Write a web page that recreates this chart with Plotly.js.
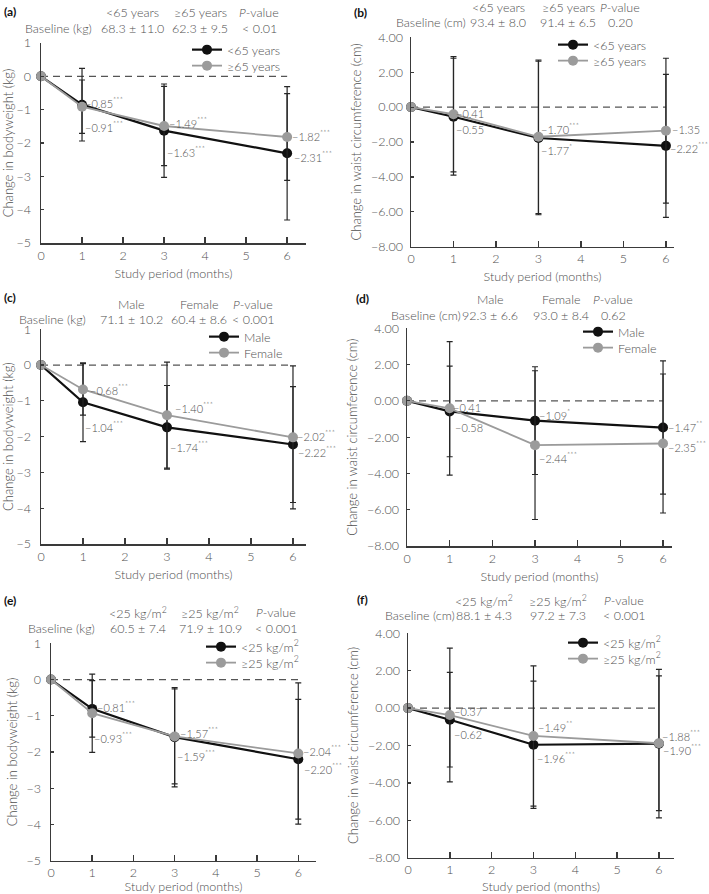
<!DOCTYPE html>
<html>
<head>
<meta charset="utf-8">
<script src="https://cdn.plot.ly/plotly-3.0.1.min.js"></script>
<style>html,body{margin:0;padding:0;background:#fff;}#chart{width:709px;height:894px;}</style>
</head>
<body>
<div id="chart"></div>
<script>
// ---------------- DATA ----------------
const months = [0, 1, 3, 6];

// (a) bodyweight by age
const aGroups = ['&lt;65 years', '≥65 years'];
const aBaseline = ['68.3 ± 11.0', '62.3 ± 9.5'];
const aPValue = '&lt; 0.01';
const aYoung = [0, -0.85, -1.63, -2.31];
const aYoungSD = [null, 1.09, 1.40, 2.00];
const aYoungSig = ['', '***', '***', '***'];
const aOld = [0, -0.91, -1.49, -1.82];
const aOldSD = [null, 0.80, 1.19, 1.30];
const aOldSig = ['', '***', '***', '***'];

// (b) waist circumference by age
const bGroups = ['&lt;65 years', '≥65 years'];
const bBaseline = ['93.4 ± 8.0', '91.4 ± 6.5'];
const bPValue = '0.20';
const bYoung = [0, -0.55, -1.77, -2.22];
const bYoungSD = [null, 3.35, 4.40, 4.10];
const bYoungSig = ['', '', '*', '***'];
const bOld = [0, -0.41, -1.70, -1.35];
const bOldSD = [null, 3.30, 4.40, 4.15];
const bOldSig = ['', '', '***', ''];

// (c) bodyweight by sex
const cGroups = ['Male', 'Female'];
const cBaseline = ['71.1 ± 10.2', '60.4 ± 8.6'];
const cPValue = '&lt; 0.001';
const cMale = [0, -1.04, -1.74, -2.22];
const cMaleSD = [null, 1.10, 1.17, 1.62];
const cMaleSig = ['', '***', '***', '***'];
const cFemale = [0, -0.68, -1.40, -2.02];
const cFemaleSD = [null, 0.72, 1.48, 2.00];
const cFemaleSig = ['', '***', '***', '***'];

// (d) waist circumference by sex
const dGroups = ['Male', 'Female'];
const dBaseline = ['92.3 ± 6.6', '93.0 ± 8.4'];
const dPValue = '0.62';
const dMale = [0, -0.58, -1.09, -1.47];
const dMaleSD = [null, 2.50, 2.97, 3.67];
const dMaleSig = ['', '', '*', '**'];
const dFemale = [0, -0.41, -2.44, -2.35];
const dFemaleSD = [null, 3.68, 4.10, 3.83];
const dFemaleSig = ['', '', '***', '***'];

// (e) bodyweight by BMI
const eGroups = ['&lt;25 kg/m<sup>2</sup>', '≥25 kg/m<sup>2</sup>'];
const eBaseline = ['60.5 ± 7.4', '71.9 ± 10.9'];
const ePValue = '&lt; 0.001';
const eLow = [0, -0.81, -1.59, -2.20];
const eLowSD = [null, 0.78, 1.37, 1.65];
const eLowSig = ['', '***', '***', '***'];
const eHigh = [0, -0.93, -1.57, -2.04];
const eHighSD = [null, 1.08, 1.31, 1.95];
const eHighSig = ['', '***', '***', '***'];

// (f) waist circumference by BMI
const fGroups = ['&lt;25 kg/m<sup>2</sup>', '≥25 kg/m<sup>2</sup>'];
const fBaseline = ['88.1 ± 4.3', '97.2 ± 7.3'];
const fPValue = '&lt; 0.001';
const fLow = [0, -0.62, -1.96, -1.90];
const fLowSD = [null, 2.53, 3.40, 3.97];
const fLowSig = ['', '', '***', '***'];
const fHigh = [0, -0.37, -1.49, -1.88];
const fHighSD = [null, 3.58, 3.75, 3.60];
const fHighSig = ['', '', '**', '***'];

const weightTicks = [-5, -4, -3, -2, -1, 0, 1];
const waistTicks = [-8, -6, -4, -2, 0, 2, 4];
const monthTicks = [0, 1, 2, 3, 4, 5, 6];

// ---------------- LAYOUT / STYLE ----------------
const W = 709, H = 894;
const px = x => x / W;
const py = y => 1 - y / H;
const FONT = 'Lato, "Open Sans", sans-serif';
const TXT = '#4f4f4f';
const AX = '#3a3a3a';
const BLACK = '#111111';
const GREY = '#9b9b9b';
const F = (size, color) => ({size: size, color: color || TXT, family: FONT, weight: 300});

const panels = [
  {id:'a', ax:'', names:aGroups, base:aBaseline, p:aPValue, unit:'Baseline (kg)', kind:'w',
   s1:aYoung, e1:aYoungSD, g1:aYoungSig, s2:aOld, e2:aOldSD, g2:aOldSig,
   geo:{x0:41, x1:306, xmax:6.46, yT:43, yB:243},
   head:{lab:[10,12], r1:13, r2:28, cols:[58,132,200,259]}, leg:[193,50],
   off1:[[1,2],[1,-21],[5,-3]], off2:[[1,-20],[3,3],[3,1]]},
  {id:'b', ax:'2', names:bGroups, base:bBaseline, p:bPValue, unit:'Baseline (cm)', kind:'c',
   s1:bYoung, e1:bYoungSD, g1:bYoungSig, s2:bOld, e2:bOldSD, g2:bOldSig,
   geo:{x0:411, x1:674, xmax:6.19, yT:37.3, yB:246.7},
   head:{lab:[360,13], r1:7, r2:23, cols:[431,498,568,620]}, leg:[559,45],
   off1:[[1,-13],[1,-12],[2,-2]], off2:[[1,1],[1,8],[4,1]]},
  {id:'c', ax:'3', names:cGroups, base:cBaseline, p:cPValue, unit:'Baseline (kg)', kind:'w',
   s1:cMale, e1:cMaleSD, g1:cMaleSig, s2:cFemale, e2:cFemaleSD, g2:cFemaleSig,
   geo:{x0:41, x1:306, xmax:6.31, yT:329.3, yB:544},
   head:{lab:[10,298], r1:304, r2:319, cols:[52,131,199,253]}, leg:[210,337],
   off1:[[0,-24],[1,-19],[3,-7]], off2:[[5,0],[6,8],[2,2]]},
  {id:'d', ax:'4', names:dGroups, base:dBaseline, p:dPValue, unit:'Baseline (cm)', kind:'c',
   s1:dMale, e1:dMaleSD, g1:dMaleSig, s2:dFemale, e2:dFemaleSD, g2:dFemaleSig,
   geo:{x0:407, x1:672, xmax:6.21, yT:328.3, yB:546},
   head:{lab:[362,299], r1:300, r2:315, cols:[426,490,561,613]}, leg:[584,332],
   off1:[[3,-16],[2,6],[3,1]], off2:[[1,1],[2,-12],[3,-3]]},
  {id:'e', ax:'5', names:eGroups, base:eBaseline, p:ePValue, unit:'Baseline (kg)', kind:'w',
   s1:eLow, e1:eLowSD, g1:eLowSig, s2:eHigh, e2:eHighSD, g2:eHighSig,
   geo:{x0:51, x1:316, xmax:6.43, yT:643.3, yB:860.7},
   head:{lab:[10,600], r1:612, r2:628, cols:[61,138,210,276]}, leg:[207,647],
   off1:[[3,2],[0,-18],[4,-9]], off2:[[0,-24],[3,4],[3,3]]},
  {id:'f', ax:'6', names:fGroups, base:fBaseline, p:fPValue, unit:'Baseline (cm)', kind:'c',
   s1:fLow, e1:fLowSD, g1:fLowSig, s2:fHigh, e2:fHighSD, g2:fHighSig,
   geo:{x0:408, x1:674, xmax:6.36, yT:633.3, yB:857.7},
   head:{lab:[362,599], r1:600, r2:615, cols:[420,484,558,624]}, leg:[569,643],
   off1:[[2,-15],[2,-13],[2,-6]], off2:[[2,4],[3,9],[1,8]]}
];

const fmt = (v, sig) => '−' + Math.abs(v).toFixed(2) + (sig ? '<sup>' + sig + '</sup>' : '');

const traces = [];
const annotations = [];
const shapes = [];
const layout = {
  width: W, height: H,
  margin: {l:0, r:0, t:0, b:0},
  paper_bgcolor: '#fff', plot_bgcolor: '#fff',
  font: F(12),
  showlegend: true,
  hovermode: false
};

let legN = 0;
panels.forEach((P, i) => {
  const xa = 'x' + P.ax, ya = 'y' + P.ax;
  const g = P.geo;
  const isW = P.kind === 'w';

  layout['xaxis' + P.ax] = {
    domain: [px(g.x0), px(g.x1)], range: [0, g.xmax], anchor: ya,
    showline: true, linecolor: AX, linewidth: 1.5,
    ticks: 'inside', ticklen: 6, tickwidth: 1.5, tickcolor: AX,
    tickvals: monthTicks, showgrid: false, zeroline: false,
    tickfont: F(12.5),
    title: {text: 'Study period (months)', font: F(12.5), standoff: 7}
  };
  layout['yaxis' + P.ax] = {
    domain: [py(g.yB), py(g.yT)], range: isW ? [-5, 1] : [-8, 4], anchor: xa,
    showline: true, linecolor: AX, linewidth: 1.5,
    ticks: 'inside', ticklen: 3, tickwidth: 1.2, tickcolor: AX,
    tickvals: isW ? weightTicks : waistTicks,
    tickformat: isW ? 'd' : '.2f',
    ticklabelstandoff: isW ? 6 : 4,
    showgrid: false, zeroline: false,
    tickfont: F(12.5),
    title: {text: isW ? 'Change in bodyweight (kg)' : 'Change in waist circumference (cm)',
            font: F(13), standoff: 6}
  };

  const series = [
    {y: P.s1, e: P.e1, sig: P.g1, name: P.names[0], color: BLACK, lw: 2.2, off: P.off1},
    {y: P.s2, e: P.e2, sig: P.g2, name: P.names[1], color: GREY, lw: 1.8, off: P.off2}
  ];
  series.forEach((s, j) => {
    legN += 1;
    const legId = legN === 1 ? 'legend' : 'legend' + legN;
    traces.push({
      type: 'scatter', mode: 'lines+markers', x: months, y: s.y, name: s.name,
      xaxis: xa, yaxis: ya, legend: legId, cliponaxis: false,
      line: {color: s.color, width: s.lw},
      marker: {color: s.color, size: 10},
      error_y: {type: 'data', array: s.e, symmetric: true, visible: true, color: '#262626', thickness: 1.2, width: 3}
    });
    layout[legId] = {
      x: px(P.leg[0] - 6), y: py(P.leg[1] + j * 16), xanchor: 'left', yanchor: 'middle',
      bgcolor: 'rgba(0,0,0,0)', borderwidth: 0, tracegroupgap: 0,
      font: F(12.5)
    };
    months.forEach((m, k) => {
      if (k === 0) return;
      const o = s.off[k - 1];
      annotations.push({
        xref: xa, yref: ya, x: m, y: s.y[k], text: fmt(s.y[k], s.sig[k]),
        showarrow: false, xanchor: 'left', yanchor: 'middle', xshift: o[0], yshift: o[1],
        font: F(11)
      });
    });
  });

  shapes.push({type: 'line', xref: xa, yref: ya, x0: 0, x1: 6, y0: 0, y1: 0, layer: 'below',
               line: {color: '#555', width: 1.2, dash: '7px,5px'}});

  // header
  const h = P.head;
  annotations.push({xref: 'paper', yref: 'paper', x: px(h.lab[0]), y: py(h.lab[1]), text: '<b>(' + P.id + ')</b>',
    showarrow: false, xanchor: 'center', yanchor: 'middle', font: {size: 12, color: '#111', family: FONT}});
  const row1 = [P.names[0], P.names[1], '<i>P</i>-value'];
  const row2 = [P.unit, P.base[0], P.base[1], P.p];
  row1.forEach((t, k) => annotations.push({xref: 'paper', yref: 'paper', x: px(h.cols[k + 1]), y: py(h.r1), text: t,
    showarrow: false, xanchor: 'center', yanchor: 'middle', font: F(12.5)}));
  row2.forEach((t, k) => annotations.push({xref: 'paper', yref: 'paper', x: px(h.cols[k]), y: py(h.r2), text: t,
    showarrow: false, xanchor: 'center', yanchor: 'middle', font: F(12.5)}));
});

layout.annotations = annotations;
layout.shapes = shapes;

Plotly.newPlot('chart', traces, layout, {staticPlot: true, displayModeBar: false});
</script>
</body>
</html>
